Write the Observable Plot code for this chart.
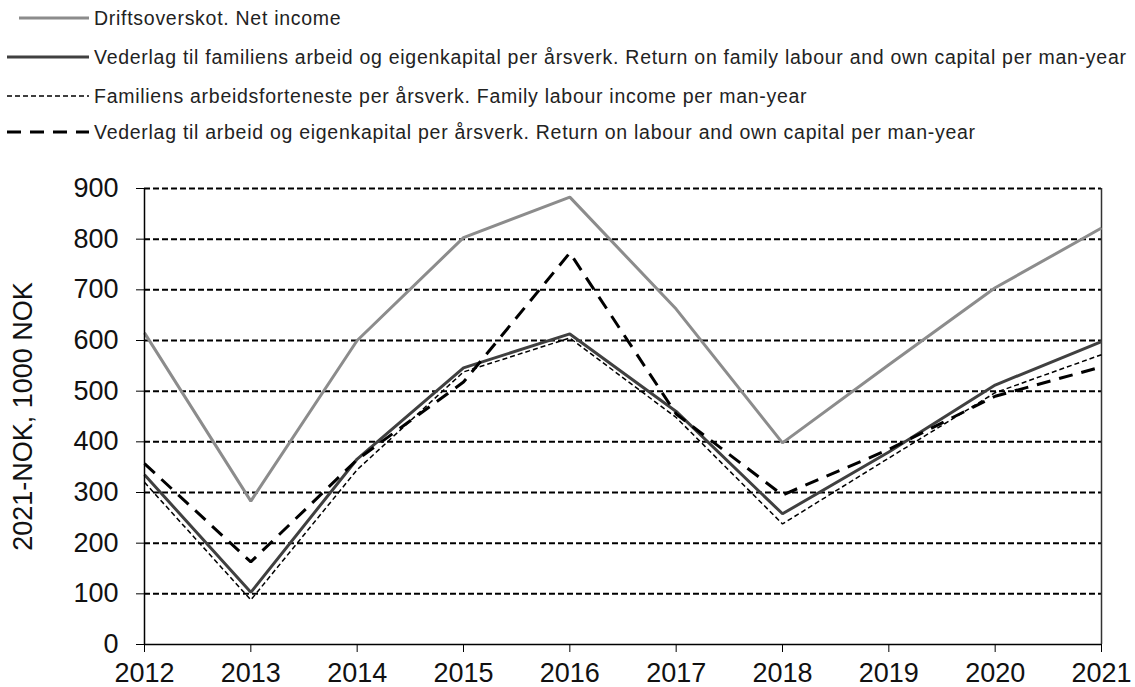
<!DOCTYPE html>
<html>
<head>
<meta charset="utf-8">
<script src="https://cdn.jsdelivr.net/npm/d3@7"></script>
<script src="https://cdn.jsdelivr.net/npm/@observablehq/plot@0.6"></script>
<style>
  html, body { margin: 0; padding: 0; background: #fff; overflow: hidden; width: 1135px; height: 687px; }
  body { font-family: "Liberation Sans", Arial, sans-serif; color: #222; }
  #legend { height: 150px; position: relative; }
  .row { position: absolute; left: 0; height: 24px; display: flex; align-items: center; white-space: nowrap; }
  .row svg { margin-left: 7px; margin-right: 5px; }
  .row span { font-size: 19.5px; letter-spacing: 0.72px; }
</style>
</head>
<body>
<div id="legend"></div>
<div id="chart"></div>
<script>
const years = [2012, 2013, 2014, 2015, 2016, 2017, 2018, 2019, 2020, 2021];
const netIncome    = [615, 283, 600, 803, 883, 662, 398, 552, 704, 822];
const returnFamily = [335, 103, 366, 546, 613, 460, 258, 380, 512, 598];
const familyLabour = [320,  88, 345, 538, 605, 448, 238, 368, 497, 572];
const returnLabour = [357, 163, 365, 518, 773, 455, 295, 385, 490, 548];
const yTicks = [0, 100, 200, 300, 400, 500, 600, 700, 800, 900];

const seriesNames = [
  "Driftsoverskot. Net income",
  "Vederlag til familiens arbeid og eigenkapital per årsverk. Return on family labour and own capital per man-year",
  "Familiens arbeidsforteneste per årsverk. Family labour income per man-year",
  "Vederlag til arbeid og eigenkapital per årsverk. Return on labour and own capital per man-year"
];
const seriesValues = [netIncome, returnFamily, familyLabour, returnLabour];
const styles = [
  {stroke: "#8c8c8c", strokeWidth: 3, dash: null},
  {stroke: "#404040", strokeWidth: 3, dash: null},
  {stroke: "#000000", strokeWidth: 1.5, dash: "5,3"},
  {stroke: "#000000", strokeWidth: 3, dash: "14,9"}
];
const legendTops = [6, 45, 84, 120];

// Legend
const legend = document.getElementById("legend");
seriesNames.forEach((name, i) => {
  const s = styles[i];
  const row = document.createElement("div");
  row.className = "row";
  row.style.top = legendTops[i] + "px";
  const x1 = i === 0 ? 12 : 0;
  row.innerHTML = `<svg width="82" height="10"><line x1="${x1}" x2="82" y1="5" y2="5" stroke="${s.stroke}" stroke-width="${s.strokeWidth}" ${s.dash ? `stroke-dasharray="${s.dash}"` : ""}/></svg><span>${name}</span>`;
  legend.appendChild(row);
});

const data = [];
seriesNames.forEach((name, i) => years.forEach((y, j) => data.push({series: name, year: y, value: seriesValues[i][j]})));

const lineMarks = seriesNames.map((name, i) => Plot.line(data.filter(d => d.series === name), {
  x: "year", y: "value",
  stroke: styles[i].stroke, strokeWidth: styles[i].strokeWidth,
  strokeDasharray: styles[i].dash || undefined,
  strokeLinejoin: "miter", strokeLinecap: "butt"
}));

const chart = Plot.plot({
  width: 1135,
  height: 537,
  marginLeft: 144,
  marginRight: 34,
  marginTop: 38,
  marginBottom: 43,
  style: {fontFamily: "Liberation Sans, Arial, sans-serif", color: "#000", background: "#fff"},
  x: {domain: [2012, 2021]},
  y: {domain: [0, 900]},
  marks: [
    Plot.ruleY(yTicks.filter(d => d > 0), {stroke: "#000", strokeWidth: 2, strokeDasharray: "6,3"}),
    Plot.ruleX([2021], {stroke: "#333", strokeWidth: 1.5}),
    ...lineMarks,
    Plot.ruleY([0], {stroke: "#000", strokeWidth: 1.5}),
    Plot.ruleX([2012], {stroke: "#000", strokeWidth: 1.5}),
    Plot.axisX({ticks: years, tickFormat: d => String(d), tickSize: 8, tickPadding: 10, fontSize: 27, label: null, fill: "#111"}),
    Plot.axisY({ticks: yTicks, tickSize: 8, tickPadding: 18, fontSize: 27, fill: "#111",
      label: "2021-NOK, 1000 NOK", labelAnchor: "center", labelArrow: "none", labelOffset: 132})
  ]
});
document.getElementById("chart").appendChild(chart);
</script>
</body>
</html>
